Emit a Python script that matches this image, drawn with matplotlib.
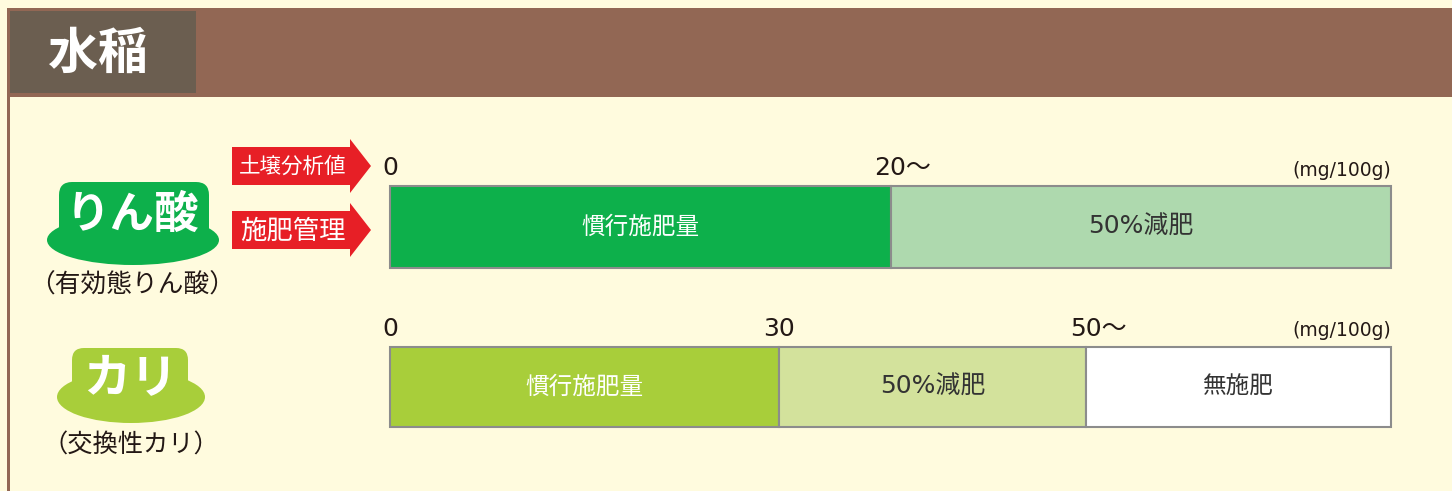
import matplotlib.pyplot as plt
from matplotlib.patches import Rectangle, Ellipse, FancyBboxPatch, Polygon

plt.rcParams['font.family'] = ['DejaVu Sans', 'Noto Sans CJK JP']
CJK = ['Noto Sans CJK JP', 'DejaVu Sans']

# schematic bar data (fraction of bar length)
phos_labels = ["慣行施肥量", "50%減肥"]
phos_widths = [0.5, 0.5]
phos_colors = ["#0db04b", "#aed9ae"]
phos_text_colors = ["white", "#333333"]
phos_ticks = ["0", "20〜"]

kari_labels = ["慣行施肥量", "50%減肥", "無施肥"]
kari_widths = [0.389, 0.306, 0.305]
kari_colors = ["#a8ce3a", "#d3e29c", "#ffffff"]
kari_text_colors = ["white", "#333333", "#333333"]
kari_ticks = ["0", "30", "50〜"]

unit = "(mg/100g)"

W, H = 1452, 491
fig = plt.figure(figsize=(W / 100, H / 100), dpi=100)
fig.patch.set_facecolor('#fffbde')

bg = fig.add_axes([0, 0, 1, 1])
bg.set_xlim(0, W)
bg.set_ylim(H, 0)
bg.axis('off')

# frame and header
bg.add_patch(Rectangle((7, 8), W, 89, color='#926754', lw=0))
bg.add_patch(Rectangle((7, 8), 3, H, color='#926754', lw=0))
bg.add_patch(Rectangle((10, 11), 186, 82, color='#6b5e50', lw=0))
bg.text(98, 54, "水稲", color='white', fontsize=36, fontweight='bold',
        ha='center', va='center', family=CJK)

# nutrient badges
green = '#0db04b'
bg.add_patch(Ellipse((133, 240), 172, 50, color=green, lw=0))
bg.add_patch(FancyBboxPatch((72, 195), 124, 40, boxstyle='round,pad=13',
                            color=green, lw=0))
bg.text(132, 215, "りん酸", color='white', fontsize=32, fontweight='bold',
        ha='center', va='center', family=CJK)
bg.text(132, 286, "（有効態りん酸）", color='#231815', fontsize=18.5,
        ha='center', va='center', family=CJK)

lime = '#a8ce3a'
bg.add_patch(Ellipse((131, 397), 148, 52, color=lime, lw=0))
bg.add_patch(FancyBboxPatch((84, 360), 92, 32, boxstyle='round,pad=12',
                            color=lime, lw=0))
bg.text(130, 379, "カリ", color='white', fontsize=34, fontweight='bold',
        ha='center', va='center', family=CJK)
bg.text(131, 446, "（交換性カリ）", color='#231815', fontsize=18.2,
        ha='center', va='center', family=CJK)

# red arrows
red = '#e71f26'
for yc, txt, fs in [(166, "土壌分析値", 15.5), (230, "施肥管理", 19)]:
    pts = [(232, yc - 19), (350, yc - 19), (350, yc - 27), (371, yc),
           (350, yc + 27), (350, yc + 19), (232, yc + 19)]
    bg.add_patch(Polygon(pts, closed=True, color=red, lw=0))
    bg.text(293, yc + 1, txt, color='white', fontsize=fs,
            ha='center', va='center', family=CJK)


def draw_bar(rect, widths, colors, labels, text_colors, ticks):
    ax = fig.add_axes(rect)
    lefts = [sum(widths[:i]) for i in range(len(widths))]
    ax.barh(0, widths, left=lefts, height=1, color=colors,
            edgecolor='#8c8c8c', linewidth=1.5, clip_on=False)
    for l, w, lab, tc in zip(lefts, widths, labels, text_colors):
        ax.text(l + w / 2, 0, lab, color=tc, fontsize=18 if '%' in lab else 17,
                ha='center', va='center')
    for l, t in zip(lefts, ticks):
        if t.endswith('〜'):
            ax.annotate(t, (l, 1), xycoords=('data', 'axes fraction'),
                        xytext=(-16, 18), textcoords='offset pixels',
                        ha='left', va='center', fontsize=18, color='#231815')
        else:
            ax.annotate(t, (l, 1), xycoords=('data', 'axes fraction'),
                        xytext=(0, 18), textcoords='offset pixels',
                        ha='center', va='center', fontsize=18, color='#231815')
    ax.annotate(unit, (1, 1), xycoords='axes fraction',
                xytext=(0, 16), textcoords='offset pixels',
                ha='right', va='center', fontsize=13.5, color='#231815')
    ax.set_xlim(0, 1)
    ax.set_ylim(-0.5, 0.5)
    ax.axis('off')
    return ax


draw_bar([390 / W, 1 - 268 / H, 1001 / W, 82 / H],
         phos_widths, phos_colors, phos_labels, phos_text_colors, phos_ticks)
draw_bar([390 / W, 1 - 427 / H, 1001 / W, 80 / H],
         kari_widths, kari_colors, kari_labels, kari_text_colors, kari_ticks)

fig.savefig('out.png', dpi=100, facecolor=fig.get_facecolor())
